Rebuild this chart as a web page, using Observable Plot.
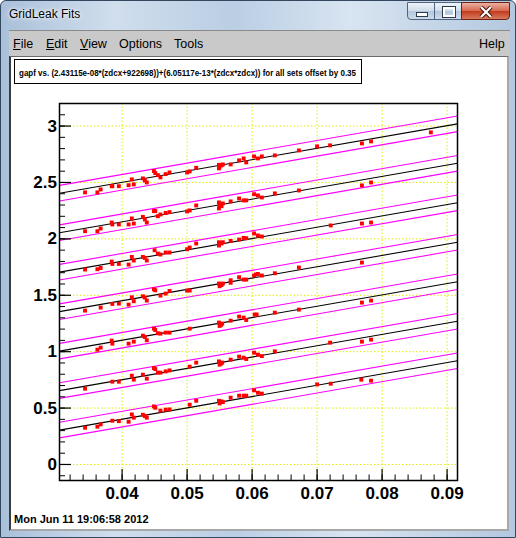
<!DOCTYPE html>
<html><head><meta charset="utf-8">
<script src="https://cdn.jsdelivr.net/npm/d3@7"></script>
<script src="https://cdn.jsdelivr.net/npm/@observablehq/plot@0.6"></script>
<style>
html,body{margin:0;padding:0;}
body{width:516px;height:538px;overflow:hidden;position:relative;font-family:"Liberation Sans",Arial,sans-serif;background:#fff;}
#win{position:absolute;left:0;top:0;width:514px;height:536px;border:1px solid #33475e;border-radius:6px 6px 0 0;
 background:linear-gradient(90deg,#a9c0da 0%,#d0deed 22%,#bacee4 45%,#d8e4f1 68%,#b3c8df 100%);}
#title{position:absolute;left:8px;top:6px;font-size:12px;color:#000;text-shadow:0 0 6px #fff,0 0 3px #fff;}
.btn{position:absolute;top:1px;height:18px;border:1px solid #4f6480;box-sizing:border-box;}
#bmin{left:406px;width:28px;border-radius:0 0 0 4px;background:linear-gradient(#eef3f9,#cfdcea 50%,#b2c6dc 51%,#cddbeb);}
#bmax{left:433px;width:28px;background:linear-gradient(#eef3f9,#cfdcea 50%,#b2c6dc 51%,#cddbeb);}
#bclose{left:460px;width:49px;border-radius:0 0 4px 0;border-color:#6e2414;background:linear-gradient(#eab0a2,#d6674e 50%,#c2391c 51%,#d77a5f);}
#bmin i{position:absolute;left:8px;top:9px;width:10px;height:3px;background:#fff;border:1px solid #2d3b4d;}
#bmax i{position:absolute;left:8px;top:4px;width:8px;height:6px;border:2px solid #fff;outline:1px solid #2d3b4d;}
#bclose svg{position:absolute;left:17px;top:3px;}
#menu{position:absolute;left:8px;top:29px;width:501px;height:26px;background:#c9c9c9;border-top:1px solid #8a8a8a;box-sizing:border-box;}
#menu span{position:absolute;top:6px;font-size:12.5px;color:#000;}
#canvas{position:absolute;left:8px;top:55px;width:500px;height:475px;background:#fff;box-sizing:border-box;
 border-left:2px solid #3c3c3c;border-top:1px solid #6a6a6a;border-right:2px solid #a8a8a8;border-bottom:2px solid #a8a8a8;}
#plotbox{position:absolute;left:9px;top:85px;}
#texts{position:absolute;left:0;top:0;}
</style>
</head><body>
<div id="win">
  <div id="title">GridLeak Fits</div>
  <div class="btn" id="bmin"><i></i></div>
  <div class="btn" id="bmax"><i></i></div>
  <div class="btn" id="bclose"><svg width="14" height="12"><path d="M2,1L12,11M12,1L2,11" stroke="#3a1008" stroke-width="4"/><path d="M2,1L12,11M12,1L2,11" stroke="#fff" stroke-width="2.2"/></svg></div>
  <div id="menu">
    <span style="left:4px"><u>F</u>ile</span>
    <span style="left:37px"><u>E</u>dit</span>
    <span style="left:71px"><u>V</u>iew</span>
    <span style="left:110px">Options</span>
    <span style="left:165px">Tools</span>
    <span style="left:470px">Help</span>
  </div>
  <div id="canvas"></div>
</div>
<div id="plotbox"></div>
<svg id="texts" width="516" height="538" style="pointer-events:none"></svg>
<script>
// ---- chart data ----
const titleText = "gapf vs. (2.43115e-08*(zdcx+922698))+(6.05117e-13*(zdcx*zdcx)) for all sets offset by 0.35";
const dateText = "Mon Jun 11 19:06:58 2012";
const xDomain = [0.03037, 0.0916];
const yDomain = [-0.142, 3.2];
const xMajor = [0.04, 0.05, 0.06, 0.07, 0.08, 0.09];
const xLabels = ["0.04", "0.05", "0.06", "0.07", "0.08", "0.09"];
const yMajor = [0, 0.5, 1, 1.5, 2, 2.5, 3];
const yLabels = ["0", "0.5", "1", "1.5", "2", "2.5", "3"];
const xMinor = d3.range(16, 46).map(i => i * 0.002);
const yMinor = d3.range(-1, 33).map(i => i / 10);
const setOffset = 0.35;
const fitSlope = 10.04;
const fitIntercept = 0.0;
const bandHalfWidth = 0.069;

const set0 = [[0.0343,0.326],[0.0362,0.335],[0.0367,0.355],[0.0385,0.388],[0.0395,0.384],[0.0410,0.379],[0.0415,0.444],[0.0418,0.415],[0.0432,0.441],[0.0435,0.429],[0.0438,0.415],[0.0449,0.515],[0.0451,0.503],[0.0459,0.477],[0.0467,0.486],[0.0473,0.488],[0.0504,0.530],[0.0514,0.565],[0.0549,0.565],[0.0550,0.541],[0.0553,0.559],[0.0555,0.553],[0.0567,0.592],[0.0580,0.610],[0.0587,0.610],[0.0591,0.610],[0.0603,0.657],[0.0609,0.636],[0.0615,0.628],[0.0700,0.710],[0.0721,0.716],[0.0768,0.752],[0.0783,0.743]];
const set1 = [[0.0343,0.672],[0.0385,0.734],[0.0395,0.734],[0.0415,0.787],[0.0418,0.752],[0.0432,0.796],[0.0438,0.761],[0.0449,0.855],[0.0451,0.846],[0.0455,0.814],[0.0459,0.814],[0.0467,0.825],[0.0473,0.834],[0.0504,0.867],[0.0514,0.903],[0.0549,0.914],[0.0550,0.885],[0.0552,0.894],[0.0554,0.903],[0.0567,0.929],[0.0580,0.956],[0.0587,0.947],[0.0591,0.935],[0.0603,0.991],[0.0609,0.974],[0.0615,0.961],[0.0635,1.003],[0.0720,1.080],[0.0769,1.089],[0.0783,1.107]];
const set2 = [[0.0362,1.018],[0.0367,1.036],[0.0384,1.098],[0.0385,1.071],[0.0410,1.071],[0.0418,1.089],[0.0432,1.142],[0.0435,1.130],[0.0438,1.101],[0.0449,1.204],[0.0451,1.192],[0.0455,1.163],[0.0459,1.160],[0.0467,1.169],[0.0473,1.169],[0.0504,1.204],[0.0549,1.258],[0.0550,1.228],[0.0552,1.236],[0.0554,1.249],[0.0567,1.275],[0.0580,1.311],[0.0587,1.302],[0.0591,1.281],[0.0604,1.329],[0.0607,1.329],[0.0635,1.346],[0.0672,1.373],[0.0769,1.435],[0.0783,1.453]];
const set3 = [[0.0343,1.364],[0.0367,1.391],[0.0385,1.423],[0.0395,1.426],[0.0410,1.417],[0.0415,1.482],[0.0418,1.447],[0.0432,1.491],[0.0435,1.480],[0.0438,1.453],[0.0449,1.553],[0.0451,1.544],[0.0459,1.497],[0.0467,1.515],[0.0473,1.538],[0.0500,1.542],[0.0504,1.542],[0.0549,1.604],[0.0550,1.580],[0.0553,1.591],[0.0555,1.604],[0.0567,1.633],[0.0567,1.611],[0.0580,1.660],[0.0587,1.639],[0.0591,1.639],[0.0603,1.675],[0.0606,1.684],[0.0609,1.689],[0.0615,1.675],[0.0635,1.695],[0.0672,1.746],[0.0769,1.790]];
const set4 = [[0.0343,1.728],[0.0362,1.731],[0.0367,1.742],[0.0384,1.799],[0.0385,1.778],[0.0395,1.778],[0.0410,1.772],[0.0415,1.840],[0.0418,1.808],[0.0432,1.840],[0.0435,1.831],[0.0438,1.808],[0.0450,1.899],[0.0455,1.870],[0.0459,1.861],[0.0467,1.879],[0.0473,1.879],[0.0500,1.908],[0.0504,1.923],[0.0514,1.959],[0.0549,1.970],[0.0549,1.941],[0.0553,1.959],[0.0555,1.970],[0.0567,1.982],[0.0580,1.994],[0.0587,2.009],[0.0591,2.006],[0.0603,2.048],[0.0609,2.030],[0.0615,2.021],[0.0721,2.119],[0.0769,2.136],[0.0783,2.145]];
const set5 = [[0.0343,2.068],[0.0362,2.068],[0.0367,2.092],[0.0384,2.145],[0.0385,2.128],[0.0395,2.128],[0.0410,2.128],[0.0415,2.181],[0.0418,2.136],[0.0432,2.195],[0.0435,2.172],[0.0438,2.145],[0.0449,2.246],[0.0451,2.246],[0.0455,2.201],[0.0459,2.216],[0.0467,2.230],[0.0473,2.237],[0.0500,2.243],[0.0504,2.252],[0.0514,2.296],[0.0549,2.323],[0.0549,2.270],[0.0550,2.296],[0.0553,2.290],[0.0555,2.314],[0.0567,2.332],[0.0580,2.358],[0.0587,2.341],[0.0591,2.341],[0.0603,2.396],[0.0609,2.385],[0.0615,2.367],[0.0635,2.403],[0.0672,2.429],[0.0769,2.474],[0.0783,2.500]];
const set6 = [[0.0343,2.412],[0.0362,2.412],[0.0367,2.438],[0.0384,2.467],[0.0385,2.467],[0.0395,2.467],[0.0410,2.476],[0.0415,2.527],[0.0418,2.483],[0.0432,2.536],[0.0435,2.518],[0.0438,2.500],[0.0449,2.601],[0.0451,2.583],[0.0455,2.565],[0.0459,2.545],[0.0467,2.574],[0.0473,2.589],[0.0500,2.589],[0.0504,2.598],[0.0514,2.630],[0.0549,2.656],[0.0549,2.625],[0.0550,2.639],[0.0553,2.651],[0.0555,2.660],[0.0567,2.660],[0.0580,2.696],[0.0587,2.713],[0.0591,2.678],[0.0603,2.731],[0.0609,2.713],[0.0615,2.731],[0.0635,2.740],[0.0672,2.784],[0.0700,2.820],[0.0720,2.829],[0.0769,2.846],[0.0783,2.864],[0.0875,2.944]];
const sets = [set0, set1, set2, set3, set4, set5, set6];

// ---- layout ----
const W = 497, H = 425, mL = 50, mR = 49, mT = 18, mB = 30;
const pw = W - mL - mR, ph = H - mT - mB;
const gridColor = "#e2ee00";

const points = sets.flatMap((s, k) => s.map(([x, y]) => ({x, y, set: k})));
const fitLines = [];
sets.forEach((s, k) => {
  [-1, 0, 1].forEach(b => {
    xDomain.forEach(x => fitLines.push({set: k, band: b, x, y: fitIntercept + fitSlope * x + k * setOffset + b * bandHalfWidth}));
  });
});

const chart = Plot.plot({
  width: W, height: H,
  marginLeft: mL, marginRight: mR, marginTop: mT, marginBottom: mB,
  x: {domain: xDomain, label: null},
  y: {domain: yDomain, label: null},
  style: {fontFamily: "'Liberation Sans', Arial, sans-serif", background: "transparent", overflow: "visible"},
  marks: [
    Plot.gridX(xMajor, {stroke: gridColor, strokeOpacity: 1, strokeDasharray: "1.5,2", strokeWidth: 1}),
    Plot.gridY(yMajor, {stroke: gridColor, strokeOpacity: 1, strokeDasharray: "1.5,2", strokeWidth: 1}),
    Plot.line(fitLines.filter(d => d.band !== 0), {x: "x", y: "y", z: d => d.set * 3 + d.band, stroke: "#ff00ff", strokeWidth: 1.1}),
    Plot.line(fitLines.filter(d => d.band === 0), {x: "x", y: "y", z: "set", stroke: "#000", strokeWidth: 1.1}),
    Plot.dot(points, {x: "x", y: "y", symbol: "square", r: 2.2, fill: "#ff0000", stroke: null}),
    Plot.tickY(yMinor, {y: d => d, insetRight: pw - 6, stroke: "#000", strokeWidth: 1}),
    Plot.tickY(yMajor, {y: d => d, insetRight: pw - 12, stroke: "#000", strokeWidth: 1.2}),
    Plot.tickX(xMinor, {x: d => d, insetTop: ph - 5.5, stroke: "#000", strokeWidth: 1}),
    Plot.tickX(xMajor, {x: d => d, insetTop: ph - 11, stroke: "#000", strokeWidth: 1.2}),
    Plot.axisY(yMajor, {anchor: "left", label: null, tickSize: 0, tickPadding: 2.5, fontSize: 17, fontWeight: "bold", fill: "#000",
      tickFormat: (d) => yLabels[yMajor.indexOf(d)]}),
    Plot.axisX(xMajor, {anchor: "bottom", label: null, tickSize: 0, tickPadding: 6, fontSize: 17, fontWeight: "bold", fill: "#000",
      tickFormat: (d) => xLabels[xMajor.indexOf(d)]}),
    Plot.frame({stroke: "#000", strokeWidth: 1.5})
  ]
});
document.getElementById("plotbox").appendChild(chart);

// ---- title pave and date ----
const t = d3.select("#texts");
t.append("rect").attr("x", 14.5).attr("y", 59.5).attr("width", 347).attr("height", 24)
  .attr("fill", "#fff").attr("stroke", "#000").attr("stroke-width", 1);
t.append("text").attr("x", 19).attr("y", 75.5).attr("font-size", 9).attr("font-weight", "bold")
  .attr("font-family", "'Liberation Sans', Arial, sans-serif")
  .attr("textLength", 337).attr("lengthAdjust", "spacingAndGlyphs").text(titleText);
t.append("text").attr("x", 14).attr("y", 523.3).attr("font-size", 11).attr("font-weight", "bold")
  .attr("font-family", "'Liberation Sans', Arial, sans-serif").text(dateText);
</script>
</body></html>
